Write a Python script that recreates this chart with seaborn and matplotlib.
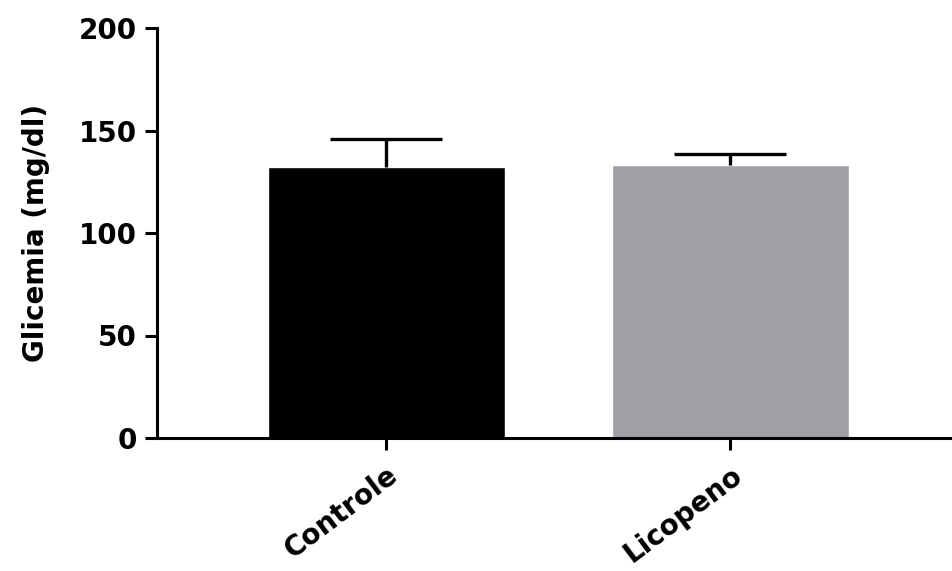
import matplotlib
matplotlib.use("Agg")
import matplotlib.pyplot as plt
import seaborn as sns
import pandas as pd

# Blood glucose by group (mean and SD)
groups = ["Controle", "Licopeno"]
means = [132.3, 133.2]
sd = [13.7, 5.3]
bar_colors = ["#000000", "#a0a0a4"]
y_ticks = [0, 50, 100, 150, 200]

sns.set_theme(style="ticks")
plt.rcParams["font.family"] = ["DejaVu Sans"]
plt.rcParams["font.weight"] = "bold"
for key in ["text.color", "axes.labelcolor", "xtick.color", "ytick.color",
            "xtick.labelcolor", "ytick.labelcolor"]:
    plt.rcParams[key] = "black"

df = pd.DataFrame({"grupo": groups, "glicemia": means})

fig = plt.figure(figsize=(9.52, 5.71), dpi=100)
ax = fig.add_axes([157 / 952, 1 - 438 / 571, 1 - 157 / 952, (438 - 28) / 571])

sns.barplot(data=df, x="grupo", y="glicemia", hue="grupo", palette=bar_colors,
            width=0.688, saturation=1, legend=False, ax=ax, errorbar=None)

# upper-only SD whiskers
_, caps, _ = ax.errorbar(range(len(groups)), means, yerr=[[0] * len(sd), sd],
                         fmt="none", ecolor="black", elinewidth=2.4,
                         capsize=40, capthick=2.4, zorder=1)
caps[0].set_visible(False)

ax.set_xlim(-0.667, 1.644)
ax.set_ylim(0, 200)
ax.set_yticks(y_ticks)
ax.set_yticklabels([str(t) for t in y_ticks], fontsize=20, fontweight="bold")
ax.set_xticks(range(len(groups)))
ax.set_xticklabels(groups, fontsize=20, fontweight="bold", rotation=37,
                   ha="right", rotation_mode="anchor")
ax.set_xlabel("")
ax.set_ylabel("Glicemia (mg/dl)", fontsize=20, fontweight="bold")
ax.yaxis.set_label_coords(-0.135, 0.5)

for side in ["top", "right"]:
    ax.spines[side].set_visible(False)
for side in ["left", "bottom"]:
    ax.spines[side].set_linewidth(2.2)
    ax.spines[side].set_color("black")
ax.tick_params(axis="both", width=2.2, length=8.5, color="black", direction="out")
ax.tick_params(axis="y", pad=6)
ax.tick_params(axis="x", pad=8)

fig.savefig("out.png", dpi=100, facecolor="white")
